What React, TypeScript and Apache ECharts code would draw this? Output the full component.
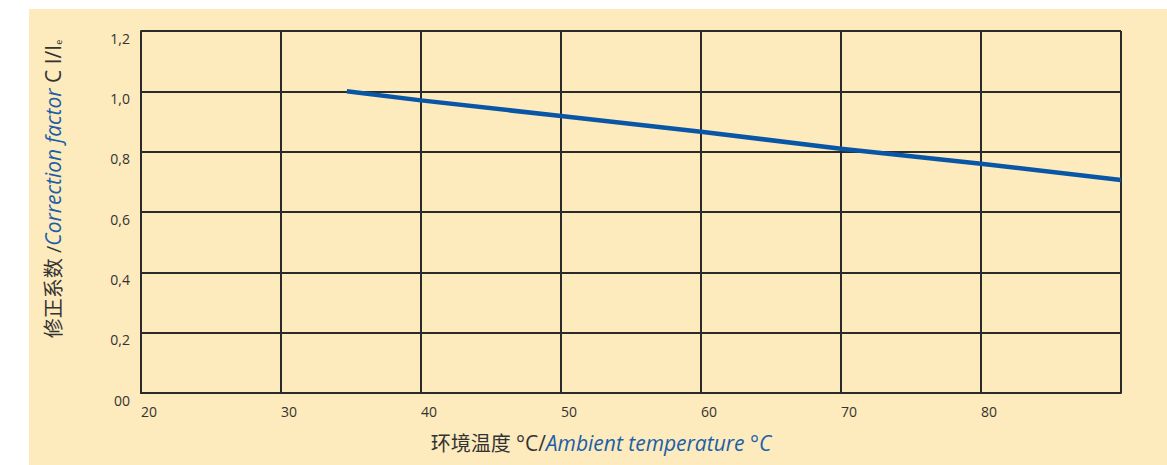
import React, { useEffect, useRef } from "react";
import * as echarts from "echarts";

const temperatures = [34.7, 40, 50, 60, 70, 80, 90];
const factors = [1.0, 0.97, 0.918, 0.866, 0.81, 0.76, 0.706];
const yTickLabels: Record<string, string> = {
  "0": "00",
  "0.2": "0,2",
  "0.4": "0,4",
  "0.6": "0,6",
  "0.8": "0,8",
  "1": "1,0",
  "1.2": "1,2",
};
const xTickHidden = [90];

const FONT = "Open Sans, Noto Sans CJK SC, sans-serif";
const GRAY = "#333333";
const BLUE = "#1a5fa8";

export default function App() {
  const ref = useRef<HTMLDivElement>(null);
  useEffect(() => {
    if (!ref.current) return;
    const chart = echarts.init(ref.current, undefined, { renderer: "svg" });
    chart.setOption({
      animation: false,
      backgroundColor: "#ffffff",
      textStyle: { fontFamily: FONT },
      graphic: [
        {
          type: "rect",
          z: -10,
          silent: true,
          shape: { x: 29, y: 9, width: 1140, height: 460 },
          style: { fill: "#fdeabd" },
        },
        {
          type: "text",
          x: 53,
          y: 189,
          rotation: Math.PI / 2,
          style: {
            text: "{c|修正系数 /}{b|Correction factor}{a| C I/I}{s|e}",
            align: "center",
            verticalAlign: "middle",
            rich: {
              c: { fontSize: 20, fill: GRAY, fontFamily: FONT },
              a: { fontSize: 21, fill: GRAY, fontFamily: FONT },
              b: { fontSize: 21, fill: BLUE, fontStyle: "italic", fontFamily: FONT },
              s: { fontSize: 9, fill: GRAY, fontFamily: FONT, padding: [10, 0, 0, 0] },
            },
          },
        },
        {
          type: "text",
          x: 601,
          y: 443,
          style: {
            text: "{c|环境温度 }{a|°C/}{b|Ambient temperature °C}",
            align: "center",
            verticalAlign: "middle",
            rich: {
              c: { fontSize: 20, fill: GRAY, fontFamily: FONT },
              a: { fontSize: 21, fill: GRAY, fontFamily: FONT },
              b: { fontSize: 21, fill: BLUE, fontStyle: "italic", fontFamily: FONT },
            },
          },
        },
      ],
      grid: { left: 141, top: 31, right: 46, bottom: 72, containLabel: false },
      xAxis: {
        type: "value",
        min: 20,
        max: 90,
        interval: 10,
        axisLine: { show: true, lineStyle: { color: "#2a2a2a", width: 2 } },
        axisTick: { show: false },
        splitLine: { show: true, lineStyle: { color: "#2a2a2a", width: 2 } },
        axisLabel: {
          color: GRAY,
          fontSize: 14,
          fontFamily: FONT,
          align: "left",
          margin: 11,
          formatter: (v: number) => (xTickHidden.includes(v) ? "" : String(v)),
        },
      },
      yAxis: {
        type: "value",
        min: 0,
        max: 1.2,
        interval: 0.2,
        axisLine: { show: true, lineStyle: { color: "#2a2a2a", width: 2 } },
        axisTick: { show: false },
        splitLine: { show: true, lineStyle: { color: "#2a2a2a", width: 2 } },
        axisLabel: {
          color: GRAY,
          fontSize: 14,
          fontFamily: FONT,
          margin: 11,
          verticalAlign: "top",
          padding: [0, 0, 0, 0],
          formatter: (v: number) => yTickLabels[String(Math.round(v * 10) / 10)] ?? "",
        },
      },
      series: [
        {
          type: "line",
          data: temperatures.map((t, i) => [t, factors[i]]),
          showSymbol: false,
          symbol: "none",
          lineStyle: { color: "#0a56a6", width: 4.5 },
          z: 5,
        },
      ],
    });
    return () => chart.dispose();
  }, []);
  return (
    <div
      ref={ref}
      style={{ position: "absolute", left: 0, top: 0, width: 1167, height: 465 }}
    />
  );
}
